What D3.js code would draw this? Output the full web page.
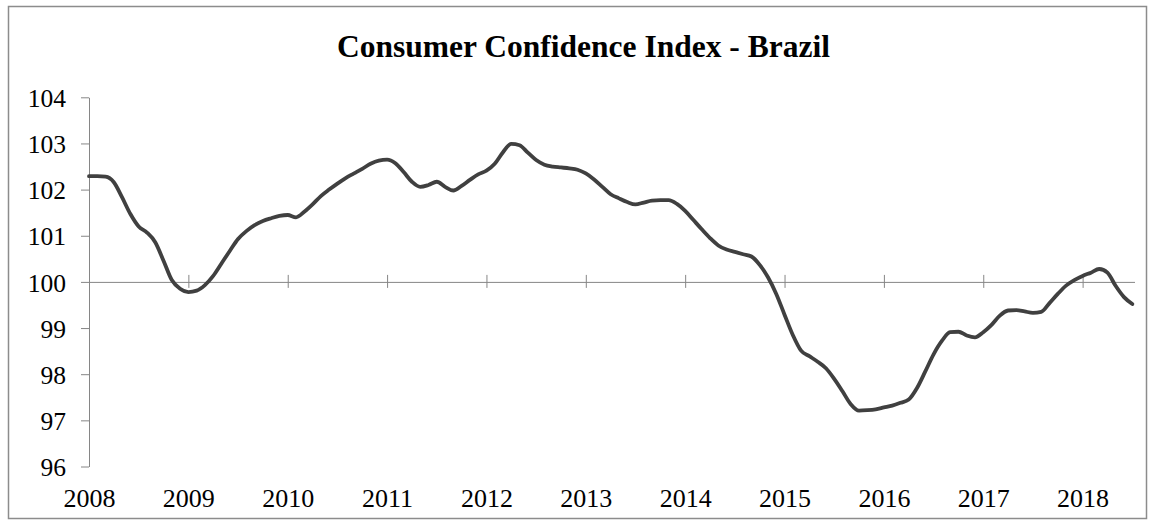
<!DOCTYPE html>
<html>
<head>
<meta charset="utf-8">
<script src="https://cdn.jsdelivr.net/npm/d3@7"></script>
<style>
  html, body { margin: 0; padding: 0; background: #fff; }
  svg { display: block; }
  text { font-family: "Liberation Serif", "Times New Roman", serif; fill: #000; }
</style>
</head>
<body>
<svg id="chart" width="1150" height="521"></svg>
<script>
// ---- Data (monthly, Jan 2008 .. Jul 2018) ----
const title = "Consumer Confidence Index - Brazil";
const yearLabels = ["2008","2009","2010","2011","2012","2013","2014","2015","2016","2017","2018"];
const yTicks = [96, 97, 98, 99, 100, 101, 102, 103, 104];
const values = [
  102.29, 102.29, 102.28, 102.16, 101.83, 101.47, 101.20, 101.07, 100.86, 100.46, 100.04, 99.85,
  99.78, 99.81, 99.93, 100.13, 100.40, 100.67, 100.93, 101.10, 101.23, 101.32, 101.38, 101.43,
  101.45, 101.40, 101.52, 101.68, 101.86, 102.00, 102.13, 102.25, 102.35, 102.45, 102.56, 102.63,
  102.65, 102.57, 102.38, 102.17, 102.06, 102.10, 102.17, 102.06, 101.98, 102.08, 102.21, 102.33,
  102.41, 102.56, 102.81, 102.99, 102.96, 102.80, 102.64, 102.54, 102.50, 102.48, 102.46, 102.43,
  102.35, 102.22, 102.06, 101.90, 101.81, 101.73, 101.68, 101.72, 101.76, 101.77, 101.77, 101.69,
  101.54, 101.34, 101.14, 100.95, 100.79, 100.70, 100.65, 100.60, 100.55, 100.37, 100.10, 99.74,
  99.29, 98.85, 98.51, 98.39, 98.27, 98.13, 97.90, 97.63, 97.35, 97.21, 97.22, 97.24,
  97.28, 97.32, 97.38, 97.45, 97.70, 98.06, 98.43, 98.72, 98.91, 98.92, 98.84, 98.80,
  98.91, 99.07, 99.27, 99.38, 99.39, 99.36, 99.33, 99.35, 99.54, 99.74, 99.92, 100.04,
  100.13, 100.20, 100.28, 100.20, 99.91, 99.67, 99.52
];
const baseline = 100;

// ---- Layout ----
const svg = d3.select("#chart");
const plot = { left: 89, right: 1135, top: 97.3, bottom: 466.5 };

svg.append("rect")
  .attr("x", 8.5).attr("y", 6.5)
  .attr("width", 1138).attr("height", 512)
  .attr("fill", "#fff")
  .attr("stroke", "#8c8c8c").attr("stroke-width", 1.5);

const x = d3.scaleLinear()
  .domain([0, values.length - 1])
  .range([plot.left, 1132.3]);

const y = d3.scaleLinear()
  .domain([d3.min(yTicks), d3.max(yTicks)])
  .range([plot.bottom, plot.top]);

// Title
svg.append("text")
  .attr("x", 583.5).attr("y", 56.5)
  .attr("text-anchor", "middle")
  .style("font-size", "31.5px")
  .style("font-weight", "bold")
  .text(title);

// Y axis
const yAxis = svg.append("g")
  .attr("transform", `translate(${plot.left},0)`)
  .call(d3.axisLeft(y).tickValues(yTicks).tickSize(8).tickPadding(15).tickSizeOuter(0).tickFormat(d3.format("d")));
yAxis.select(".domain").attr("stroke", "#868686").attr("stroke-width", 1);
yAxis.selectAll(".tick line").attr("stroke", "#868686");
yAxis.selectAll(".tick text")
  .style("font-size", "25.5px")
  .attr("dy", "0.36em");

// Horizontal axis line at baseline (100) with cross ticks
const yearIdx = yearLabels.map((d, i) => i * 12);
const xAxisLine = svg.append("g")
  .attr("transform", `translate(0,${y(baseline)})`)
  .call(d3.axisBottom(x).tickValues(yearIdx).tickSize(6).tickSizeOuter(0).tickFormat(""));
xAxisLine.select(".domain").attr("d", `M${plot.left},0.5H${plot.right}`).attr("stroke", "#868686");
xAxisLine.selectAll(".tick line").attr("y1", -7).attr("y2", 6).attr("stroke", "#868686");

// Year labels at the bottom (low position)
const xLabels = svg.append("g")
  .attr("transform", `translate(0,484)`)
  .call(d3.axisBottom(x).tickValues(yearIdx).tickSize(0).tickPadding(0)
    .tickFormat((d, i) => yearLabels[i]));
xLabels.select(".domain").remove();
xLabels.selectAll(".tick text")
  .style("font-size", "26px")
  .attr("dy", "0.88em");

// Series line
const line = d3.line()
  .x((d, i) => x(i))
  .y(d => y(d))
  .curve(d3.curveMonotoneX);

svg.append("path")
  .datum(values)
  .attr("fill", "none")
  .attr("stroke", "#404040")
  .attr("stroke-width", 3.8)
  .attr("stroke-linejoin", "round")
  .attr("stroke-linecap", "round")
  .attr("d", line);
</script>
</body>
</html>
